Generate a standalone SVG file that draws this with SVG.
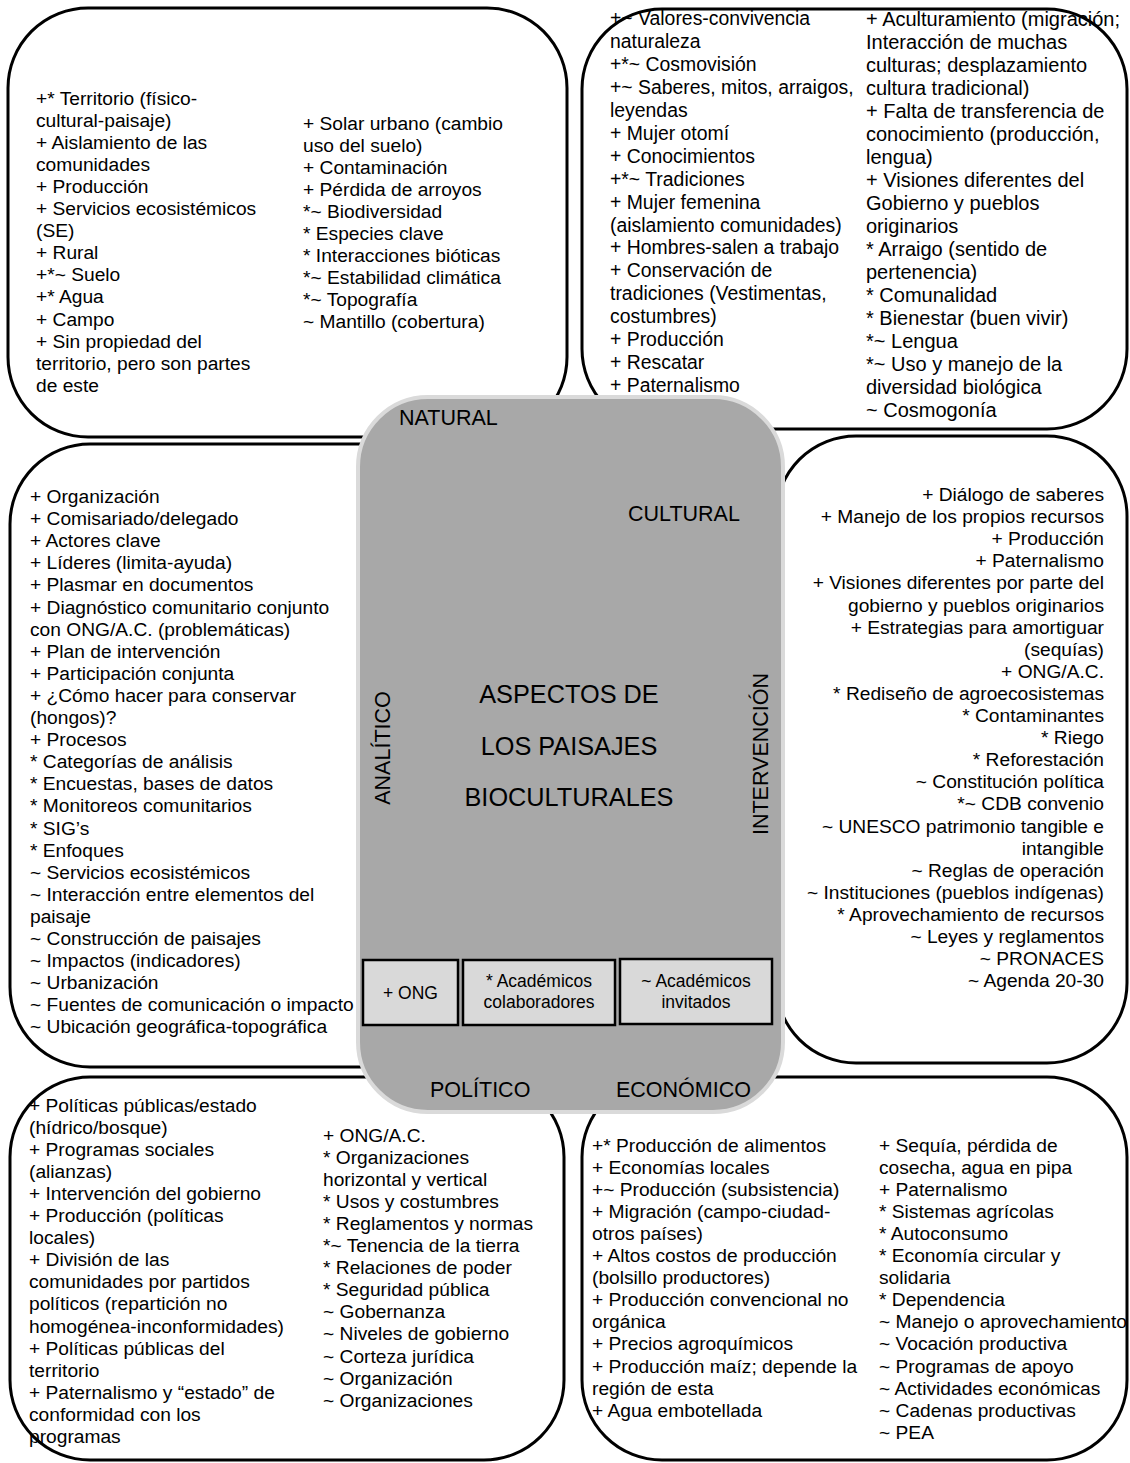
<svg xmlns="http://www.w3.org/2000/svg" width="1130" height="1463" viewBox="0 0 1130 1463">
<style>
.box{fill:#fff;stroke:#000;stroke-width:3}
.core{fill:#a8a8a8;stroke:#dadada;stroke-width:4}
.sub{fill:#d9d9d9;stroke:#000;stroke-width:2.5}
text{font-family:"Liberation Sans",Arial,sans-serif;fill:#000}
.t{font-size:19.2px}
.t1{font-size:19.4px}
.t2{font-size:20px}
.r{text-anchor:end}
.lab{font-size:21.5px}
.ttl{font-size:25.3px;text-anchor:middle}
.s{font-size:17.5px;text-anchor:middle}
</style>
<rect width="1130" height="1463" fill="#fff"/>

<g id="natural">
<rect class="box" x="8" y="8" width="559" height="429" rx="80"/>
<text class="t" y="104.5"><tspan x="36">+* Territorio (físico-</tspan><tspan x="36" dy="22.1">cultural-paisaje)</tspan><tspan x="36" dy="22.1">+ Aislamiento de las</tspan><tspan x="36" dy="22.1">comunidades</tspan><tspan x="36" dy="22.1">+ Producción</tspan><tspan x="36" dy="22.1">+ Servicios ecosistémicos</tspan><tspan x="36" dy="22.1">(SE)</tspan><tspan x="36" dy="22.1">+ Rural</tspan><tspan x="36" dy="22.1">+*~ Suelo</tspan><tspan x="36" dy="22.1">+* Agua</tspan><tspan x="36" dy="22.1">+ Campo</tspan><tspan x="36" dy="22.1">+ Sin propiedad del</tspan><tspan x="36" dy="22.1">territorio, pero son partes</tspan><tspan x="36" dy="22.1">de este</tspan></text>
<text class="t" y="129.5"><tspan x="303">+ Solar urbano (cambio</tspan><tspan x="303" dy="22.1">uso del suelo)</tspan><tspan x="303" dy="22.1">+ Contaminación</tspan><tspan x="303" dy="22.1">+ Pérdida de arroyos</tspan><tspan x="303" dy="22.1">*~ Biodiversidad</tspan><tspan x="303" dy="22.1">* Especies clave</tspan><tspan x="303" dy="22.1">* Interacciones bióticas</tspan><tspan x="303" dy="22.1">*~ Estabilidad climática</tspan><tspan x="303" dy="22.1">*~ Topografía</tspan><tspan x="303" dy="22.1">~ Mantillo (cobertura)</tspan></text>
</g>

<g id="cultural">
<rect class="box" x="582" y="9" width="545" height="420" rx="80"/>
<text class="t1" y="25"><tspan x="610">+~ Valores-convivencia</tspan><tspan x="610" dy="22.95">naturaleza</tspan><tspan x="610" dy="22.95">+*~ Cosmovisión</tspan><tspan x="610" dy="22.95">+~ Saberes, mitos, arraigos,</tspan><tspan x="610" dy="22.95">leyendas</tspan><tspan x="610" dy="22.95">+ Mujer otomí</tspan><tspan x="610" dy="22.95">+ Conocimientos</tspan><tspan x="610" dy="22.95">+*~ Tradiciones</tspan><tspan x="610" dy="22.95">+ Mujer femenina</tspan><tspan x="610" dy="22.95">(aislamiento comunidades)</tspan><tspan x="610" dy="22.95">+ Hombres-salen a trabajo</tspan><tspan x="610" dy="22.95">+ Conservación de</tspan><tspan x="610" dy="22.95">tradiciones (Vestimentas,</tspan><tspan x="610" dy="22.95">costumbres)</tspan><tspan x="610" dy="22.95">+ Producción</tspan><tspan x="610" dy="22.95">+ Rescatar</tspan><tspan x="610" dy="22.95">+ Paternalismo</tspan></text>
<text class="t2" y="25.5"><tspan x="866">+ Aculturamiento (migración;</tspan><tspan x="866" dy="23">Interacción de muchas</tspan><tspan x="866" dy="23">culturas; desplazamiento</tspan><tspan x="866" dy="23">cultura tradicional)</tspan><tspan x="866" dy="23">+ Falta de transferencia de</tspan><tspan x="866" dy="23">conocimiento (producción,</tspan><tspan x="866" dy="23">lengua)</tspan><tspan x="866" dy="23">+ Visiones diferentes del</tspan><tspan x="866" dy="23">Gobierno y pueblos</tspan><tspan x="866" dy="23">originarios</tspan><tspan x="866" dy="23">* Arraigo (sentido de</tspan><tspan x="866" dy="23">pertenencia)</tspan><tspan x="866" dy="23">* Comunalidad</tspan><tspan x="866" dy="23">* Bienestar (buen vivir)</tspan><tspan x="866" dy="23">*~ Lengua</tspan><tspan x="866" dy="23">*~ Uso y manejo de la</tspan><tspan x="866" dy="23">diversidad biológica</tspan><tspan x="866" dy="23">~ Cosmogonía</tspan></text>
</g>

<g id="analitico">
<rect class="box" x="10" y="444" width="440" height="623" rx="80"/>
<text class="t" y="503"><tspan x="30">+ Organización</tspan><tspan x="30" dy="22.1">+ Comisariado/delegado</tspan><tspan x="30" dy="22.1">+ Actores clave</tspan><tspan x="30" dy="22.1">+ Líderes (limita-ayuda)</tspan><tspan x="30" dy="22.1">+ Plasmar en documentos</tspan><tspan x="30" dy="22.1">+ Diagnóstico comunitario conjunto</tspan><tspan x="30" dy="22.1">con ONG/A.C. (problemáticas)</tspan><tspan x="30" dy="22.1">+ Plan de intervención</tspan><tspan x="30" dy="22.1">+ Participación conjunta</tspan><tspan x="30" dy="22.1">+ ¿Cómo hacer para conservar</tspan><tspan x="30" dy="22.1">(hongos)?</tspan><tspan x="30" dy="22.1">+ Procesos</tspan><tspan x="30" dy="22.1">* Categorías de análisis</tspan><tspan x="30" dy="22.1">* Encuestas, bases de datos</tspan><tspan x="30" dy="22.1">* Monitoreos comunitarios</tspan><tspan x="30" dy="22.1">* SIG’s</tspan><tspan x="30" dy="22.1">* Enfoques</tspan><tspan x="30" dy="22.1">~ Servicios ecosistémicos</tspan><tspan x="30" dy="22.1">~ Interacción entre elementos del</tspan><tspan x="30" dy="22.1">paisaje</tspan><tspan x="30" dy="22.1">~ Construcción de paisajes</tspan><tspan x="30" dy="22.1">~ Impactos (indicadores)</tspan><tspan x="30" dy="22.1">~ Urbanización</tspan><tspan x="30" dy="22.1">~ Fuentes de comunicación o impacto</tspan><tspan x="30" dy="22.1">~ Ubicación geográfica-topográfica</tspan></text>
</g>

<g id="intervencion">
<rect class="box" x="776" y="436" width="351" height="627" rx="80"/>
<text class="t r" y="501"><tspan x="1104">+ Diálogo de saberes</tspan><tspan x="1104" dy="22.1">+ Manejo de los propios recursos</tspan><tspan x="1104" dy="22.1">+ Producción</tspan><tspan x="1104" dy="22.1">+ Paternalismo</tspan><tspan x="1104" dy="22.1">+ Visiones diferentes por parte del</tspan><tspan x="1104" dy="22.1">gobierno y pueblos originarios</tspan><tspan x="1104" dy="22.1">+ Estrategias para amortiguar</tspan><tspan x="1104" dy="22.1">(sequías)</tspan><tspan x="1104" dy="22.1">+ ONG/A.C.</tspan><tspan x="1104" dy="22.1">* Rediseño de agroecosistemas</tspan><tspan x="1104" dy="22.1">* Contaminantes</tspan><tspan x="1104" dy="22.1">* Riego</tspan><tspan x="1104" dy="22.1">* Reforestación</tspan><tspan x="1104" dy="22.1">~ Constitución política</tspan><tspan x="1104" dy="22.1">*~ CDB convenio</tspan><tspan x="1104" dy="22.1">~ UNESCO patrimonio tangible e</tspan><tspan x="1104" dy="22.1">intangible</tspan><tspan x="1104" dy="22.1">~ Reglas de operación</tspan><tspan x="1104" dy="22.1">~ Instituciones (pueblos indígenas)</tspan><tspan x="1104" dy="22.1">* Aprovechamiento de recursos</tspan><tspan x="1104" dy="22.1">~ Leyes y reglamentos</tspan><tspan x="1104" dy="22.1">~ PRONACES</tspan><tspan x="1104" dy="22.1">~ Agenda 20-30</tspan></text>
</g>

<g id="politico">
<rect class="box" x="10" y="1077" width="554" height="383" rx="80"/>
<text class="t" y="1111.5"><tspan x="29">+ Políticas públicas/estado</tspan><tspan x="29" dy="22.1">(hídrico/bosque)</tspan><tspan x="29" dy="22.1">+ Programas sociales</tspan><tspan x="29" dy="22.1">(alianzas)</tspan><tspan x="29" dy="22.1">+ Intervención del gobierno</tspan><tspan x="29" dy="22.1">+ Producción (políticas</tspan><tspan x="29" dy="22.1">locales)</tspan><tspan x="29" dy="22.1">+ División de las</tspan><tspan x="29" dy="22.1">comunidades por partidos</tspan><tspan x="29" dy="22.1">políticos (repartición no</tspan><tspan x="29" dy="22.1">homogénea-inconformidades)</tspan><tspan x="29" dy="22.1">+ Políticas públicas del</tspan><tspan x="29" dy="22.1">territorio</tspan><tspan x="29" dy="22.1">+ Paternalismo y “estado” de</tspan><tspan x="29" dy="22.1">conformidad con los</tspan><tspan x="29" dy="22.1">programas</tspan></text>
<text class="t" y="1141.5"><tspan x="323">+ ONG/A.C.</tspan><tspan x="323" dy="22.1">* Organizaciones</tspan><tspan x="323" dy="22.1">horizontal y vertical</tspan><tspan x="323" dy="22.1">* Usos y costumbres</tspan><tspan x="323" dy="22.1">* Reglamentos y normas</tspan><tspan x="323" dy="22.1">*~ Tenencia de la tierra</tspan><tspan x="323" dy="22.1">* Relaciones de poder</tspan><tspan x="323" dy="22.1">* Seguridad pública</tspan><tspan x="323" dy="22.1">~ Gobernanza</tspan><tspan x="323" dy="22.1">~ Niveles de gobierno</tspan><tspan x="323" dy="22.1">~ Corteza jurídica</tspan><tspan x="323" dy="22.1">~ Organización</tspan><tspan x="323" dy="22.1">~ Organizaciones</tspan></text>
</g>

<g id="economico">
<rect class="box" x="582" y="1077" width="545" height="383" rx="80"/>
<text class="t" y="1151.5"><tspan x="592">+* Producción de alimentos</tspan><tspan x="592" dy="22.1">+ Economías locales</tspan><tspan x="592" dy="22.1">+~ Producción (subsistencia)</tspan><tspan x="592" dy="22.1">+ Migración (campo-ciudad-</tspan><tspan x="592" dy="22.1">otros países)</tspan><tspan x="592" dy="22.1">+ Altos costos de producción</tspan><tspan x="592" dy="22.1">(bolsillo productores)</tspan><tspan x="592" dy="22.1">+ Producción convencional no</tspan><tspan x="592" dy="22.1">orgánica</tspan><tspan x="592" dy="22.1">+ Precios agroquímicos</tspan><tspan x="592" dy="22.1">+ Producción maíz; depende la</tspan><tspan x="592" dy="22.1">región de esta</tspan><tspan x="592" dy="22.1">+ Agua embotellada</tspan></text>
<text class="t" y="1151.5"><tspan x="879">+ Sequía, pérdida de</tspan><tspan x="879" dy="22.1">cosecha, agua en pipa</tspan><tspan x="879" dy="22.1">+ Paternalismo</tspan><tspan x="879" dy="22.1">* Sistemas agrícolas</tspan><tspan x="879" dy="22.1">* Autoconsumo</tspan><tspan x="879" dy="22.1">* Economía circular y</tspan><tspan x="879" dy="22.1">solidaria</tspan><tspan x="879" dy="22.1">* Dependencia</tspan><tspan x="879" dy="22.1">~ Manejo o aprovechamiento</tspan><tspan x="879" dy="22.1">~ Vocación productiva</tspan><tspan x="879" dy="22.1">~ Programas de apoyo</tspan><tspan x="879" dy="22.1">~ Actividades económicas</tspan><tspan x="879" dy="22.1">~ Cadenas productivas</tspan><tspan x="879" dy="22.1">~ PEA</tspan></text>
</g>

<g id="aspectos">
<rect class="core" x="358" y="397" width="425" height="715" rx="70"/>
<text class="lab" x="399" y="425">NATURAL</text>
<text class="lab" x="628" y="521">CULTURAL</text>
<text class="lab" text-anchor="middle" transform="translate(390 748) rotate(-90)">ANALÍTICO</text>
<text class="lab" text-anchor="middle" transform="translate(768 754) rotate(-90)">INTERVENCIÓN</text>
<text class="lab" x="430" y="1097">POLÍTICO</text>
<text class="lab" x="616" y="1097">ECONÓMICO</text>
<text class="ttl" x="569" y="703">ASPECTOS DE</text>
<text class="ttl" x="569" y="754.5">LOS PAISAJES</text>
<text class="ttl" x="569" y="806">BIOCULTURALES</text>
</g>

<g id="ong">
<rect class="sub" x="363" y="960" width="95" height="65"/>
<text class="s" x="410.5" y="998.5">+ ONG</text>
</g>
<g id="academicos-colaboradores">
<rect class="sub" x="463" y="960" width="152" height="65"/>
<text class="s" x="539" y="987">* Académicos</text>
<text class="s" x="539" y="1007.5">colaboradores</text>
</g>
<g id="academicos-invitados">
<rect class="sub" x="620" y="959" width="152" height="65"/>
<text class="s" x="696" y="987">~ Académicos</text>
<text class="s" x="696" y="1007.5">invitados</text>
</g>
</svg>
